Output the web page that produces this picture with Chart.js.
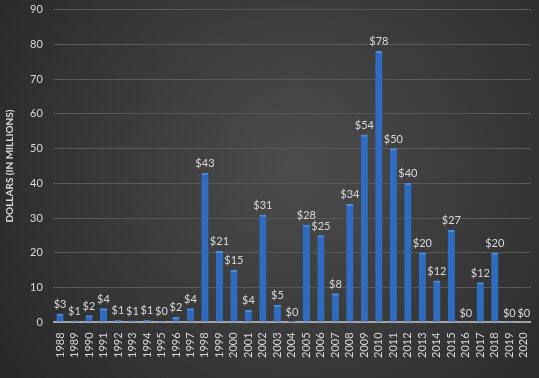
<!DOCTYPE html>
<html>
<head>
<meta charset="utf-8">
<script src="https://cdn.jsdelivr.net/npm/chart.js@4"></script>
<style>
  html, body { margin: 0; padding: 0; background: #2a2a2a; overflow: hidden; }
  canvas { display: block; margin-top: -7px; }
</style>
</head>
<body>
<canvas id="chart" width="539" height="385"></canvas>
<script>
// 年ごとの金額（百万ドル）
const years = ['1988','1989','1990','1991','1992','1993','1994','1995','1996','1997',
  '1998','1999','2000','2001','2002','2003','2004','2005','2006','2007','2008','2009',
  '2010','2011','2012','2013','2014','2015','2016','2017','2018','2019','2020'];
const dollars = [2.5, 0.5, 2, 4, 0.6, 0.5, 0.6, 0.3, 1.5, 4,
  43, 20.5, 15, 3.5, 31, 5, 0.2, 28, 25, 8.3, 34, 54,
  78, 50, 40, 20, 12, 26.5, 0, 11.5, 20, 0, 0];
const yTicks = [0, 10, 20, 30, 40, 50, 60, 70, 80, 90];

const textColor = '#d9d9d9';
const fontFamily = 'Lato, "Open Sans", sans-serif';

// 背景のグラデーション
const bgPlugin = {
  id: 'bg',
  beforeDraw(chart) {
    const ctx = chart.ctx;
    const w = chart.width, h = chart.height;
    const g = ctx.createRadialGradient(w * 0.55, h * 0.45, 10, w * 0.55, h * 0.45, w * 0.7);
    g.addColorStop(0, '#4b4b4b');
    g.addColorStop(1, '#262626');
    ctx.save();
    ctx.fillStyle = g;
    ctx.fillRect(0, 0, w, h);
    ctx.restore();
  }
};

// 棒の上に金額ラベル
const labelPlugin = {
  id: 'barLabels',
  afterDatasetsDraw(chart) {
    const ctx = chart.ctx;
    const meta = chart.getDatasetMeta(0);
    ctx.save();
    ctx.fillStyle = textColor;
    ctx.font = '11px ' + fontFamily;
    ctx.textAlign = 'center';
    ctx.textBaseline = 'bottom';
    meta.data.forEach((bar, i) => {
      ctx.fillText('$' + Math.round(dollars[i]), bar.x, bar.y - 4);
    });
    ctx.restore();
  }
};

const ctx = document.getElementById('chart').getContext('2d');

new Chart(ctx, {
  type: 'bar',
  data: {
    labels: years,
    datasets: [{
      data: dollars,
      backgroundColor: '#2f6cc0',
      borderColor: '#4a8ae0',
      borderWidth: { top: 2, left: 0, right: 0, bottom: 0 },
      barThickness: 7
    }]
  },
  options: {
    responsive: false,
    animation: false,
    layout: { padding: { top: 0, right: 0, bottom: 18, left: 4 } },
    plugins: {
      legend: { display: false },
      tooltip: { enabled: false }
    },
    scales: {
      x: {
        grid: { display: false },
        border: { display: false },
        ticks: {
          color: textColor,
          font: { size: 11, family: fontFamily },
          minRotation: 90,
          maxRotation: 90,
          autoSkip: false,
          padding: 2
        }
      },
      y: {
        min: 0,
        max: 90,
        afterBuildTicks(axis) {
          axis.ticks = yTicks.map(v => ({ value: v }));
        },
        grid: {
          color: c => c.tick && c.tick.value === 0 ? '#a6a6a6' : '#595959',
          lineWidth: c => c.tick && c.tick.value === 0 ? 2 : 1,
          drawTicks: false
        },
        border: { display: false },
        ticks: {
          color: textColor,
          font: { size: 11, family: fontFamily },
          padding: 10
        },
        title: {
          display: true,
          text: 'DOLLARS (IN MILLIONS)',
          color: textColor,
          font: { size: 10, weight: 'bold', family: fontFamily },
          padding: { top: 0, bottom: 4 }
        }
      }
    }
  },
  plugins: [bgPlugin, labelPlugin]
});
</script>
</body>
</html>
